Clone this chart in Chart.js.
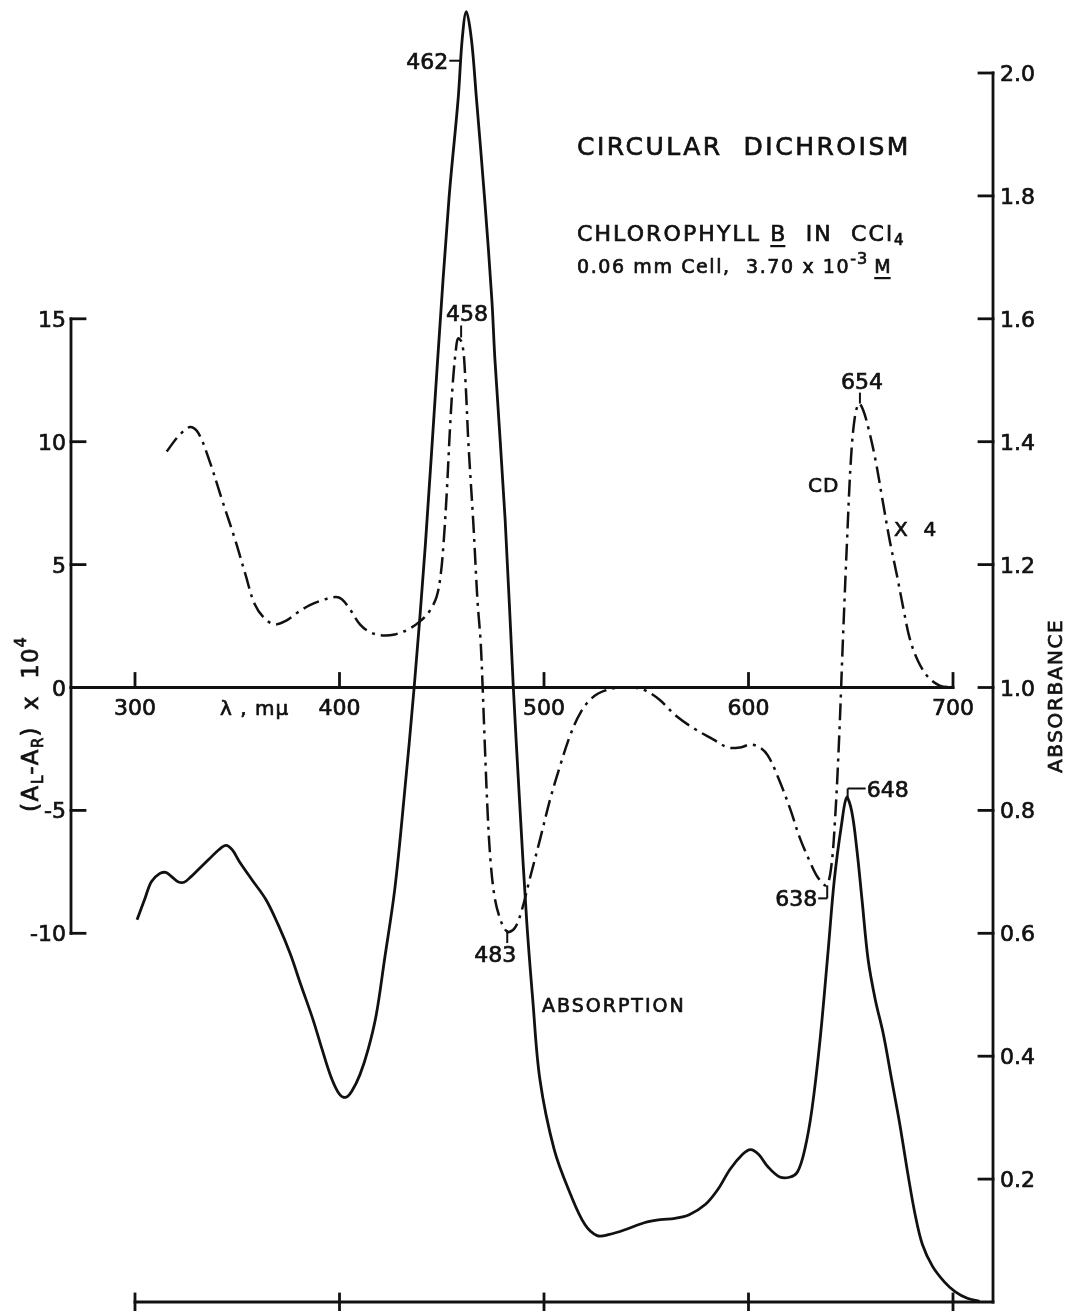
<!DOCTYPE html>
<html>
<head>
<meta charset="utf-8">
<title>Circular dichroism - chlorophyll b in CCl4</title>
<script src="https://cdn.jsdelivr.net/npm/chart.js@4.4.1/dist/chart.umd.min.js"></script>
<style>
  html, body { margin: 0; padding: 0; background: #fff; }
  canvas { display: block; }
</style>
</head>
<body>
<canvas id="cdChart" width="1072" height="1311"></canvas>
<script>
// absorption spectrum, wavelength (mu) and absorbance
const absWavelength = [
  301, 305, 308, 312, 315, 318, 321, 324, 327, 331, 336, 341, 344.5, 347.5, 351, 357,
  364, 370, 376, 381, 387, 391.5, 396, 400, 403, 406, 410, 414, 418, 422, 427, 431.5,
  436.5, 442, 448, 453.5, 458, 460, 462, 464.5, 467, 471, 474.5, 476, 481, 485, 488,
  491.5, 494.5, 498, 505, 513, 520, 526, 532, 540, 549, 557, 564, 571, 579, 585, 591,
  597, 601, 605, 609.5, 615, 620, 624, 627.5, 631, 635, 639, 642, 645.5, 648, 650.5,
  653, 655.5, 658.5, 662, 666, 670, 674, 678, 681.5, 685, 690, 696, 701, 707, 713
];
const absValues = [
  0.622, 0.658, 0.684, 0.697, 0.699, 0.692, 0.684, 0.683, 0.691, 0.704, 0.720, 0.736, 0.743, 0.736, 0.717, 0.688,
  0.655, 0.614, 0.566, 0.517, 0.460, 0.411, 0.365, 0.338, 0.333, 0.343, 0.370, 0.411, 0.468, 0.557, 0.671, 0.818,
  1.000, 1.233, 1.534, 1.794, 1.957, 2.055, 2.100, 2.055, 1.957, 1.794, 1.631, 1.534, 1.273, 1.000, 0.818,
  0.622, 0.492, 0.362, 0.248, 0.175, 0.126, 0.108, 0.110, 0.118, 0.129, 0.134, 0.136, 0.142, 0.159, 0.183, 0.216,
  0.240, 0.248, 0.240, 0.220, 0.204, 0.203, 0.212, 0.248, 0.313, 0.427, 0.574, 0.688, 0.777, 0.821, 0.798,
  0.736, 0.655, 0.557, 0.492, 0.435, 0.362, 0.289, 0.207, 0.142, 0.094, 0.058, 0.032, 0.017, 0.006, 0.001
];

// CD spectrum, (A_L - A_R) x 10^4 (red band already multiplied by 4)
const cdWavelength = [
  315.5, 321, 327, 331, 336.5, 342.5, 349, 354, 358.5, 363.5, 368.5, 373.5, 379.5, 385.5, 391.5, 398,
  401, 405, 410, 415, 421, 427, 433.5, 439.5, 444, 447.5, 449.5, 451, 452.5, 454, 455.5, 457,
  458, 460, 461.5, 463, 465.5, 467.5, 469, 470, 471, 472.5, 474, 476, 478.5, 481, 483, 486,
  489, 493, 498, 503, 508, 513, 518, 523.5, 530, 537, 543.5, 549.5, 556.5, 565, 574, 582.5,
  590, 596, 601, 605.5, 609.5, 614.5, 620.5, 625, 630, 634, 638, 640.3, 642.3, 644.3, 646.2,
  648.2, 650.1, 652, 654, 656, 658.5, 662, 665.5, 669, 672.5, 676, 679, 683, 688, 693.5, 700
];
const cdValues = [
  9.6, 10.2, 10.6, 10.35, 9.2, 7.65, 6.0, 4.6, 3.4, 2.8, 2.57, 2.7, 3.05, 3.35, 3.55, 3.68,
  3.6, 3.2, 2.57, 2.25, 2.12, 2.16, 2.36, 2.7, 3.1, 3.7, 4.6, 6.0, 8.0, 10.5, 12.5, 13.8,
  14.2, 14.0, 12.6, 10.0, 6.6, 3.5, 1.9, 0, -2.2, -5.2, -7.2, -8.6, -9.4, -9.85, -9.95, -9.75,
  -9.1, -7.8, -6.2, -4.55, -3.15, -1.9, -1.0, -0.42, -0.12, 0, 0, -0.12, -0.5, -1.18, -1.7, -2.1,
  -2.44, -2.44, -2.32, -2.44, -2.77, -3.66, -4.97, -6.1, -7.08, -7.74, -8.05, -7.4, -5.4, -2.1, 2.0,
  6.0, 9.3, 11.0, 11.55, 11.3, 10.6, 9.3, 7.65, 6.0, 4.6, 3.1, 1.95, 1.06, 0.41, 0.08, 0
];

const waveTicks = [300, 400, 500, 600, 700];
const cdTicks = [15, 10, 5, 0, -5, -10];
const absTicks = [2.0, 1.8, 1.6, 1.4, 1.2, 1.0, 0.8, 0.6, 0.4, 0.2];

const INK = '#111';
const FONT = '"DejaVu Sans", sans-serif';
const W = 1072, H = 1311;

// where 300/700 mu and CD +25/-25 sit on the canvas; absorbance 1.0 <-> CD 0, 0.2 <-> 5 units
const FRAME = { x300: 135, x700: 953, top: 73, bottom: 1302 };
const LEFT_AXIS = 71, RIGHT_AXIS = 993;

const pxPerNm = (FRAME.x700 - FRAME.x300) / 400;
const pxPerCd = (FRAME.bottom - FRAME.top) / 50;
const xMin = 300 - FRAME.x300 / pxPerNm;
const xMax = 700 + (W - FRAME.x700) / pxPerNm;
const cdMax = 25 + FRAME.top / pxPerCd;
const cdMin = -25 - (H - FRAME.bottom) / pxPerCd;
const toAbs = c => 1 + c / 25;

function line(ctx, x1, y1, x2, y2) {
  ctx.beginPath();
  ctx.moveTo(x1, y1);
  ctx.lineTo(x2, y2);
  ctx.stroke();
}

// filled + lightly stroked so the lettering reads as heavy as pen lettering
function ink(ctx, t, x, y) {
  ctx.save();
  ctx.lineWidth = 0.7;
  ctx.fillText(t, x, y);
  ctx.strokeText(t, x, y);
  ctx.restore();
}

// text made of pieces with their own size / offset / underline
function drawRuns(ctx, runs, x, y) {
  let cx = x;
  ctx.textAlign = 'left';
  ctx.textBaseline = 'alphabetic';
  runs.forEach(r => {
    ctx.font = r.size + 'px ' + FONT;
    ctx.letterSpacing = (r.ls || 0) + 'px';
    ink(ctx, r.t, cx, y + (r.dy || 0));
    const w = ctx.measureText(r.t).width;
    if (r.under) ctx.fillRect(cx, y + 4, w - (r.ls || 0), 2.2);
    cx += w;
  });
  ctx.letterSpacing = '0px';
}

function label(ctx, text, x, y, size, align) {
  ctx.font = size + 'px ' + FONT;
  ctx.letterSpacing = '0px';
  ctx.textAlign = align || 'left';
  ctx.textBaseline = 'alphabetic';
  ink(ctx, text, x, y);
}

const frameAndLabels = {
  id: 'frameAndLabels',
  afterDatasetsDraw(chart) {
    const { ctx } = chart;
    const x = chart.scales.x, yc = chart.scales.yCd, ya = chart.scales.yAbs;
    ctx.save();
    ctx.strokeStyle = INK;
    ctx.fillStyle = INK;
    ctx.lineWidth = 2.8;
    ctx.lineCap = 'square';

    // left CD axis
    line(ctx, LEFT_AXIS, yc.getPixelForValue(15), LEFT_AXIS, yc.getPixelForValue(-10));
    cdTicks.forEach(v => {
      const py = yc.getPixelForValue(v);
      line(ctx, LEFT_AXIS, py, LEFT_AXIS + 14, py);
      label(ctx, String(v), LEFT_AXIS - 5, py + 8, 22, 'right');
    });

    // zero line with wavelength ticks
    const y0 = yc.getPixelForValue(0);
    line(ctx, LEFT_AXIS, y0, x.getPixelForValue(700), y0);
    waveTicks.forEach(w => {
      const px = x.getPixelForValue(w);
      line(ctx, px, y0, px, y0 - 14);
      label(ctx, String(w), px, y0 + 27, 22, 'center');
    });
    drawRuns(ctx, [{ t: '\u03bb , m\u03bc', size: 20, ls: 1 }], 220, y0 + 27);

    // right absorbance axis
    line(ctx, RIGHT_AXIS, ya.getPixelForValue(2.0), RIGHT_AXIS, ya.getPixelForValue(0));
    absTicks.forEach(v => {
      const py = ya.getPixelForValue(v);
      line(ctx, RIGHT_AXIS, py, RIGHT_AXIS - 14, py);
      label(ctx, v.toFixed(1), RIGHT_AXIS + 7, py + 8, 22, 'left');
    });

    // bottom wavelength axis
    const yb = ya.getPixelForValue(0);
    line(ctx, x.getPixelForValue(300), yb, RIGHT_AXIS, yb);
    waveTicks.forEach(w => {
      const px = x.getPixelForValue(w);
      line(ctx, px, yb - 8, px, yb + 8);
    });

    // axis titles
    ctx.save();
    ctx.translate(38, 812);
    ctx.rotate(-Math.PI / 2);
    drawRuns(ctx, [
      { t: '(A', size: 23, ls: 1.6 }, { t: 'L', size: 15, dy: 5, ls: 1 }, { t: '-A', size: 23, ls: 1.6 },
      { t: 'R', size: 15, dy: 5, ls: 1 }, { t: ')  x  10', size: 23, ls: 1 }, { t: '4', size: 16, dy: -12 }
    ], 0, 0);
    ctx.restore();

    ctx.save();
    ctx.translate(1062, 773);
    ctx.rotate(-Math.PI / 2);
    drawRuns(ctx, [{ t: 'ABSORBANCE', size: 20, ls: 1.6 }], 0, 0);
    ctx.restore();

    // heading block
    drawRuns(ctx, [{ t: 'CIRCULAR  DICHROISM', size: 25, ls: 2.5 }], 577, 155);
    drawRuns(ctx, [
      { t: 'CHLOROPHYLL ', size: 22, ls: 2.1 }, { t: 'B', size: 22, ls: 2.1, under: true },
      { t: '  IN  CCl', size: 22, ls: 2.1 }, { t: '4', size: 15, dy: 4 }
    ], 577, 241);
    drawRuns(ctx, [
      { t: '0.06 mm Cell,  3.70 x 10', size: 19, ls: 1.6 }, { t: '-3', size: 16, dy: -9, ls: 1 },
      { t: ' ', size: 19 }, { t: 'M', size: 19, under: true }
    ], 577, 273);

    // peak markers
    ctx.lineWidth = 2;
    ctx.lineCap = 'butt';
    const p462 = x.getPixelForValue(462), t462 = ya.getPixelForValue(2.02);
    label(ctx, '462', p462 - 18, t462 + 8, 22, 'right');
    line(ctx, p462 - 17, t462, p462 - 5, t462);

    const p458 = x.getPixelForValue(458), v458 = yc.getPixelForValue(14.2);
    label(ctx, '458', p458 + 9, v458 - 17, 22, 'center');
    line(ctx, p458 + 3, v458 - 13, p458 + 3, v458 - 1);

    const p483 = x.getPixelForValue(483), v483 = yc.getPixelForValue(-9.95);
    label(ctx, '483', p483 - 14, v483 + 30, 22, 'center');
    line(ctx, p483 - 2, v483 + 11, p483 - 2, v483 - 2);

    const p654 = x.getPixelForValue(654), v654 = yc.getPixelForValue(11.55);
    label(ctx, '654', p654 + 3, v654 - 15, 22, 'center');
    line(ctx, p654 + 1, v654 - 11, p654 + 1, v654);

    const p648 = x.getPixelForValue(648), v648 = ya.getPixelForValue(0.821);
    line(ctx, p648 + 1, v648 + 2, p648 + 1, v648 - 9);
    line(ctx, p648 + 1, v648 - 9, p648 + 19, v648 - 9);
    label(ctx, '648', p648 + 20, v648, 22, 'left');

    const p638 = x.getPixelForValue(638), v638 = yc.getPixelForValue(-8.05);
    line(ctx, p638 + 1, v638, p638 + 1, v638 + 13);
    line(ctx, p638 + 1, v638 + 13, p638 - 8, v638 + 13);
    label(ctx, '638', p638 - 9, v638 + 21, 22, 'right');

    // curve names
    drawRuns(ctx, [{ t: 'CD', size: 20, ls: 1 }], 808, 492);
    drawRuns(ctx, [{ t: 'X  4', size: 20, ls: 1 }], 894, 536);
    drawRuns(ctx, [{ t: 'ABSORPTION', size: 19, ls: 2 }], 542, 1012);

    ctx.restore();
  }
};

const ctx = document.getElementById('cdChart');
new Chart(ctx, {
  type: 'line',
  data: {
    datasets: [
      {
        label: 'Absorption',
        data: absWavelength.map((w, i) => ({ x: w, y: absValues[i] })),
        yAxisID: 'yAbs',
        borderColor: INK,
        borderWidth: 2.8,
        pointRadius: 0,
        tension: 0.35,
        borderJoinStyle: 'round',
        fill: false
      },
      {
        label: 'CD',
        data: cdWavelength.map((w, i) => ({ x: w, y: cdValues[i] })),
        yAxisID: 'yCd',
        borderColor: INK,
        borderWidth: 2.5,
        borderDash: [17, 6, 3, 6],
        pointRadius: 0,
        tension: 0.35,
        fill: false
      }
    ]
  },
  options: {
    responsive: false,
    animation: false,
    devicePixelRatio: 1,
    layout: { padding: 0 },
    plugins: {
      legend: { display: false },
      tooltip: { enabled: false },
      title: { display: false }
    },
    scales: {
      x: { type: 'linear', min: xMin, max: xMax, display: false },
      yCd: { type: 'linear', min: cdMin, max: cdMax, display: false },
      yAbs: { type: 'linear', min: toAbs(cdMin), max: toAbs(cdMax), display: false }
    }
  },
  plugins: [frameAndLabels]
});
</script>
</body>
</html>
